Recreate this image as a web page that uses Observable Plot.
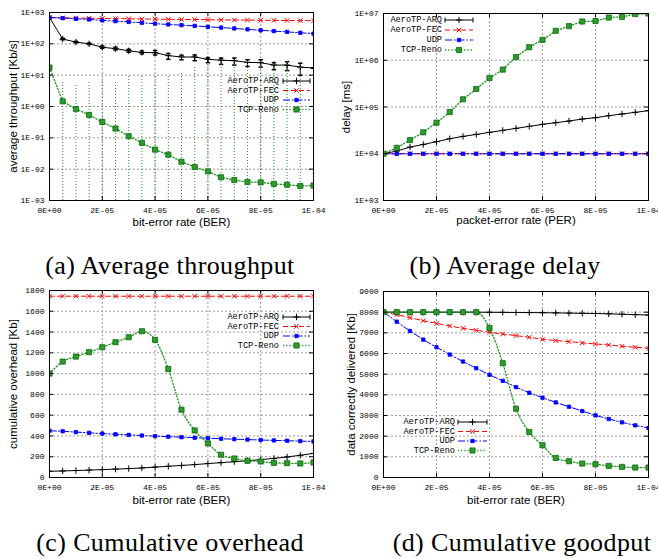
<!DOCTYPE html>
<html><head><meta charset="utf-8">
<script src="https://cdn.jsdelivr.net/npm/d3@7"></script>
<script src="https://cdn.jsdelivr.net/npm/@observablehq/plot@0.6"></script>
<style>
body{margin:0;background:#fff;}
#root{position:relative;width:658px;height:559px;overflow:hidden;background:#fff;}
.panel{position:absolute;}
.panel svg{overflow:visible;}
.cap{position:absolute;font-family:"Liberation Serif",serif;font-size:26px;letter-spacing:0.4px;white-space:nowrap;transform:translate(-50%,-50%);color:#000;}
</style></head><body><div id="root"></div>
<script>
// ---------- data ----------
const ber = [0,5e-6,1e-5,1.5e-5,2e-5,2.5e-5,3e-5,3.5e-5,4e-5,4.5e-5,5e-5,5.5e-5,6e-5,6.5e-5,7e-5,7.5e-5,8e-5,8.5e-5,9e-5,9.5e-5,1e-4];
const xTicks = [0,2e-5,4e-5,6e-5,8e-5,1e-4];
const xTickLabels = ["0E+00","2E-05","4E-05","6E-05","8E-05","1E-04"];
const seriesNames = ["AeroTP-ARQ","AeroTP-FEC","UDP","TCP-Reno"];

// (a) average throughput [Kb/s]
const thrArq     = [690,142,114,100,78,70,60,53,52,42,38,38,32,30,29,25.6,25,21,21,18,17];
const thrArqLow  = [690,135,108,95,72,64,54,48,44,32,31,29,25,22,21,19,18,15,14,10,17];
const thrArqHigh = [690,150,120,106,86,78,67,59,61,49,43,44,36,35,35,31,31,25,27,24,17];
const thrFec     = [690,675,665,655,645,637,630,622,615,608,601,595,589,583,577,572,566,561,556,551,546];
const thrUdp     = [690,660,630,600,560,530,500,470,440,415,395,375,350,330,310,290,270,255,240,225,212];
const thrTcp     = [17.5,1.46,0.83,0.54,0.32,0.198,0.113,0.069,0.042,0.029,0.0173,0.0117,0.0085,0.0055,0.0045,0.0039,0.0038,0.0034,0.0032,0.0029,0.003];
const thrTcpLow  = [17.5,0.001,0.001,0.001,0.001,0.001,0.001,0.001,0.001,0.001,0.001,0.001,0.001,0.001,0.001,0.001,0.001,0.001,0.001,0.001,0.001];
const thrTcpHigh = [17.5,6.9,5.1,5.9,8.0,6.4,9.2,9.2,9.2,10.7,13.3,17.9,22,26,28,30,30,28,30,26,30];
const thrTicks = [1e-3,1e-2,1e-1,1,10,100,1000];
const thrTickLabels = ["1E-03","1E-02","1E-01","1E+00","1E+01","1E+02","1E+03"];

// (b) average delay [ms]
const delArq = [10000,11400,13900,15800,18100,21000,23500,25900,28700,31600,34900,38500,42500,46200,50100,55300,59100,65200,70800,76900,83500];
const delFec = [10000,10000,10000,10000,10000,10000,10000,10000,10000,10000,10000,10000,10000,10000,10000,10000,10000,10000,10000,10000,10000];
const delUdp = [10000,10000,10000,10000,10000,10000,10000,10000,10000,10000,10000,10000,10000,10000,10000,10000,10000,10000,10000,10000,10000];
const delTcp = [10000,13400,19600,28700,46200,78000,146000,243000,418000,631000,1170000,1900000,2730000,4260000,5360000,6740000,6900000,8200000,8500000,9700000,10000000];
const delTicks = [1e3,1e4,1e5,1e6,1e7];
const delTickLabels = ["1E+03","1E+04","1E+05","1E+06","1E+07"];

// (c) cumulative overhead [Kb]
const ovArq = [60,63,67,71,76,81,86,92,100,108,116,124,134,143,152,162,172,184,198,214,232];
const ovFec = [1745,1745,1745,1745,1745,1745,1745,1745,1745,1745,1745,1745,1745,1745,1745,1745,1745,1745,1745,1745,1745];
const ovUdp = [450,445,437,430,423,416,410,404,398,393,388,383,378,373,369,365,361,357,354,350,347];
const ovTcp = [1000,1116,1164,1206,1254,1302,1350,1408,1325,1045,653,453,328,219,183,161,154,141,138,135,145];
const ovTicks = [0,200,400,600,800,1000,1200,1400,1600,1800];

// (d) data correctly delivered [Kb]
const gpArq = [8000,8000,8000,8000,8000,8000,8000,8000,7995,7990,7985,7980,7975,7965,7955,7945,7935,7920,7900,7880,7860];
const gpFec = [8000,7878,7733,7588,7460,7331,7218,7122,7026,6945,6865,6785,6688,6624,6575,6511,6463,6415,6350,6302,6254];
const gpUdp = [8000,7540,7090,6672,6302,5949,5611,5289,4968,4678,4373,4100,3859,3633,3424,3215,3006,2830,2669,2524,2395];
const gpTcp = [8000,8000,8000,8000,8000,8000,8000,8000,7235,5530,3328,2203,1559,949,788,675,643,563,514,482,482];
const gpTicks = [0,1000,2000,3000,4000,5000,6000,7000,8000,9000];

const captions = ["(a) Average throughput","(b) Average delay","(c) Cumulative overhead","(d) Cumulative goodput"];

// ---------- styles ----------
const GREEN = "#18961a";
const styles = {
  "AeroTP-ARQ": {stroke:"#000", dash:null, symbol:"plus", r:2.2, fill:"none", mstroke:"#000"},
  "AeroTP-FEC": {stroke:"#ff0000", dash:"5,3", symbol:"times", r:2.2, fill:"none", mstroke:"#ff0000"},
  "UDP": {stroke:"#0000ff", dash:"7,2,1.5,2", symbol:"square", r:1.9, fill:"#0000ff", mstroke:"#0000ff"},
  "TCP-Reno": {stroke:GREEN, dash:"1.2,2", symbol:"square", r:2.9, fill:"#2f9a2f", mstroke:"#0a6a0a"}
};
const capSymbol = {draw(ctx){ ctx.moveTo(-2.2,0); ctx.lineTo(2.2,0); }};
const MONO = "'Liberation Mono', 'DejaVu Sans Mono', monospace";
const SANS = "'Liberation Sans', Arial, sans-serif";

function makePanel(cfg){
  const {left, top, w, h, m, y, yTicks, yFmt, yLabel, xLabel, yLabelDx, xLabelDy, series, legend} = cfg;
  const fw = w - m.l - m.r, fh = h - m.t - m.b;
  const marks = [
    Plot.gridX(xTicks, {stroke:"#9c9c9c", strokeOpacity:1, strokeDasharray:"2,2"}),
    Plot.gridY(yTicks, {stroke:"#9c9c9c", strokeOpacity:1, strokeDasharray:"2,2"})
  ];
  for (const s of series){
    const st = styles[s.name];
    const rows = ber.map((x,i)=>({x, y:s.values[i], lo:s.low?s.low[i]:null, hi:s.high?s.high[i]:null}));
    if (s.low){
      marks.push(Plot.ruleX(rows, {x:"x", y1:"lo", y2:"hi", stroke: st.stroke, strokeWidth:1, strokeDasharray: s.errDash||null, clip:true}));
      if (s.caps){
        marks.push(Plot.dot(rows, {x:"x", y:"lo", symbol:capSymbol, stroke:st.stroke, fill:"none", clip:true}));
        marks.push(Plot.dot(rows, {x:"x", y:"hi", symbol:capSymbol, stroke:st.stroke, fill:"none", clip:true}));
      }
    }
    marks.push(Plot.line(rows, {x:"x", y:"y", stroke:st.stroke, strokeWidth: s.name==="TCP-Reno"?1.3:1, strokeDasharray:st.dash, curve: s.curve||"linear", clip:true}));
    marks.push(Plot.dot(rows, {x:"x", y:"y", symbol:st.symbol, r:st.r, fill:st.fill, stroke:st.mstroke, strokeWidth: st.fill==="none"?1:0.8, clip:true}));
  }
  marks.push(
    Plot.frame({stroke:"#000", strokeWidth:1}),
    Plot.tickX(xTicks, {x:d=>d, insetTop: fh-4, stroke:"#000"}),
    Plot.tickX(xTicks, {x:d=>d, insetBottom: fh-4, stroke:"#000"}),
    Plot.tickY(yTicks, {y:d=>d, insetRight: fw-4, stroke:"#000"}),
    Plot.tickY(yTicks, {y:d=>d, insetLeft: fw-4, stroke:"#000"}),
    Plot.axisX(xTicks, {tickFormat: d=>xTickLabels[xTicks.indexOf(d)], tickSize:0, tickPadding:7, fontFamily:MONO, fontSize:8, label:null}),
    Plot.axisY(yTicks, {tickFormat: yFmt, tickSize:0, tickPadding:5, fontFamily:MONO, fontSize:8, label:null}),
    Plot.text([xLabel], {text:d=>d, frameAnchor:"bottom", textAnchor:"middle", lineAnchor:"middle", dy:xLabelDy, fontFamily:SANS, fontSize:11.5, fill:"#000"}),
    Plot.text([yLabel], {text:d=>d, frameAnchor:"left", textAnchor:"middle", lineAnchor:"middle", rotate:-90, dx:yLabelDx, fontFamily:SANS, fontSize:11.5, fill:"#000"})
  );
  const chart = Plot.plot({
    width:w, height:h, marginLeft:m.l, marginRight:m.r, marginTop:m.t, marginBottom:m.b,
    x:{domain:[0,1e-4]}, y,
    style:{background:"white", color:"#000", overflow:"visible"},
    marks
  });
  // legend
  const svg = d3.select(chart);
  const g = svg.append("g");
  legend.rows.forEach((ry, i)=>{
    const name = seriesNames[i];
    const st = styles[name];
    const yy = m.t + ry;
    const tx = m.l + legend.textRight;
    const x1 = m.l + legend.s1, x2 = m.l + legend.s2;
    g.append("text").attr("x", tx).attr("y", yy).attr("text-anchor","end").attr("dominant-baseline","central")
      .attr("font-family", MONO).attr("font-size", 8.6).attr("fill","#000").text(name);
    g.append("line").attr("x1",x1).attr("x2",x2).attr("y1",yy).attr("y2",yy)
      .attr("stroke", st.stroke).attr("stroke-width", name==="TCP-Reno"?1.3:1).attr("stroke-dasharray", st.dash);
    if (name==="AeroTP-ARQ"){
      [x1,x2].forEach(xx=>g.append("line").attr("x1",xx).attr("x2",xx).attr("y1",yy-2.5).attr("y2",yy+2.5).attr("stroke","#000"));
    }
    const typ = {plus:d3.symbolPlus, times:d3.symbolTimes, square:d3.symbolSquare}[st.symbol];
    g.append("path").attr("transform",`translate(${(x1+x2)/2},${yy})`)
      .attr("d", d3.symbol(typ, st.r*st.r*Math.PI)())
      .attr("fill", st.fill).attr("stroke", st.mstroke).attr("stroke-width", st.fill==="none"?1:0.8);
  });
  const div = document.createElement("div");
  div.className = "panel";
  div.style.left = left+"px"; div.style.top = top+"px";
  div.appendChild(chart);
  document.getElementById("root").appendChild(div);
}

const logFmt = (ticks, labels) => d => labels[ticks.indexOf(d)];

makePanel({
  left:0, top:0, w:330, h:250, m:{l:49,r:17,t:12,b:50},
  y:{type:"log", domain:[1e-3,1e3]}, yTicks:thrTicks, yFmt:logFmt(thrTicks,thrTickLabels),
  yLabel:"average throughput [Kb/s]", xLabel:"bit-error rate (BER)", yLabelDx:-36, xLabelDy:22,
  series:[
    {name:"AeroTP-ARQ", values:thrArq, low:thrArqLow, high:thrArqHigh, caps:true},
    {name:"AeroTP-FEC", values:thrFec},
    {name:"UDP", values:thrUdp},
    {name:"TCP-Reno", values:thrTcp, low:thrTcpLow, high:thrTcpHigh, errDash:"1,2"}
  ],
  legend:{rows:[69,78.5,88,97.5], textRight:230, s1:234, s2:261}
});
makePanel({
  left:330, top:0, w:328, h:250, m:{l:53,r:10,t:13,b:50},
  y:{type:"log", domain:[1e3,1e7]}, yTicks:delTicks, yFmt:logFmt(delTicks,delTickLabels),
  yLabel:"delay [ms]", xLabel:"packet-error rate (PER)", yLabelDx:-37, xLabelDy:20,
  series:[
    {name:"AeroTP-ARQ", values:delArq},
    {name:"AeroTP-FEC", values:delFec},
    {name:"UDP", values:delUdp},
    {name:"TCP-Reno", values:delTcp}
  ],
  legend:{rows:[7,17,27,37], textRight:59, s1:62, s2:90}
});
makePanel({
  left:0, top:280, w:330, h:250, m:{l:49,r:17,t:10,b:53},
  y:{domain:[0,1800]}, yTicks:ovTicks, yFmt:d=>String(d),
  yLabel:"cumulative overhead [Kb]", xLabel:"bit-error rate (BER)", yLabelDx:-36, xLabelDy:23,
  series:[
    {name:"AeroTP-ARQ", values:ovArq},
    {name:"AeroTP-FEC", values:ovFec},
    {name:"UDP", values:ovUdp},
    {name:"TCP-Reno", values:ovTcp, curve:"monotone-x"}
  ],
  legend:{rows:[27,36.5,46,55.5], textRight:230, s1:234, s2:261}
});
makePanel({
  left:330, top:280, w:328, h:250, m:{l:53,r:10,t:11,b:53},
  y:{domain:[0,9000]}, yTicks:gpTicks, yFmt:d=>String(d),
  yLabel:"data correctly delivered [Kb]", xLabel:"bit-error rate (BER)", yLabelDx:-32, xLabelDy:23,
  series:[
    {name:"AeroTP-ARQ", values:gpArq},
    {name:"AeroTP-FEC", values:gpFec},
    {name:"UDP", values:gpUdp},
    {name:"TCP-Reno", values:gpTcp, curve:"monotone-x"}
  ],
  legend:{rows:[131,140.5,150,159.5], textRight:72, s1:75, s2:104}
});

// captions
const capPos = [[170,266],[505,266],[170,543],[522,543]];
captions.forEach((c,i)=>{
  const d = document.createElement("div");
  d.className = "cap"; d.textContent = c;
  d.style.left = capPos[i][0]+"px"; d.style.top = capPos[i][1]+"px";
  document.getElementById("root").appendChild(d);
});
</script></body></html>
